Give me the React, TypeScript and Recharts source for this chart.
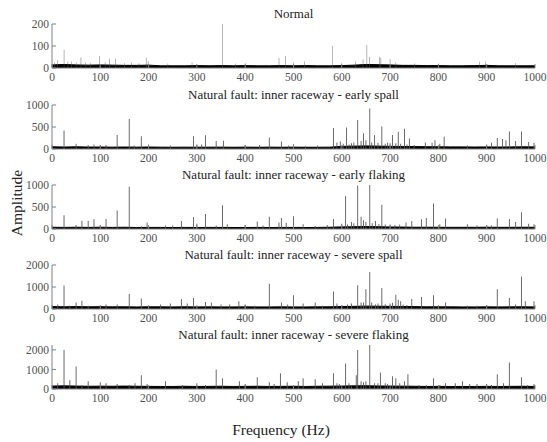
import React from 'react';
import { ComposedChart, Bar, Area, XAxis, YAxis } from 'recharts';

// x ticks shared by every panel
const freqTicks = [0, 100, 200, 300, 400, 500, 600, 700, 800, 900, 1000];

const floorFreq = [
  0, 25, 50, 75, 100, 125, 150, 175, 200, 225, 250, 275, 300, 325, 350, 375, 400, 425, 450, 475, 500,
  525, 550, 575, 600, 625, 650, 675, 700, 725, 750, 775, 800, 825, 850, 875, 900, 925, 950, 975, 1000,
];

// Normal
const normalPeaks: [number, number][] = [
  [5, 25], [11, 35], [25, 82], [33, 28], [40, 30], [50, 25], [60, 48], [70, 25], [80, 22], [99, 55],
  [110, 25], [119, 42], [132, 42], [150, 22], [165, 25], [180, 22], [195, 48], [199, 32], [240, 20],
  [290, 25], [353, 200], [380, 20], [400, 22], [470, 45], [484, 55], [500, 25], [523, 30], [581, 100],
  [600, 22], [629, 30], [644, 40], [652, 105], [657, 50], [678, 50], [681, 45], [700, 40], [712, 25],
  [750, 20], [800, 20], [885, 28], [897, 30], [960, 22],
];
const normalFloor = [
  14, 16, 14, 13, 14, 13, 12, 12, 13, 10, 10, 10, 11, 10, 11, 10, 11, 10, 10, 11, 10,
  11, 10, 10, 11, 13, 16, 15, 14, 12, 12, 11, 11, 10, 10, 11, 12, 10, 10, 10, 10,
];

// early spall
const spallEarlyPeaks: [number, number][] = [
  [25, 420], [50, 120], [75, 90], [87, 100], [100, 90], [112, 90], [135, 320], [160, 680], [170, 80],
  [185, 290], [200, 100], [245, 80], [293, 290], [300, 100], [310, 100], [318, 310], [340, 180],
  [355, 190], [400, 90], [430, 90], [450, 260], [475, 170], [490, 80], [500, 110], [525, 60], [550, 80],
  [583, 480], [590, 150], [597, 170], [603, 120], [610, 490], [615, 100], [620, 130], [625, 150],
  [633, 660], [640, 180], [645, 360], [650, 200], [658, 920], [662, 150], [668, 320], [675, 140],
  [683, 510], [690, 120], [695, 150], [700, 130], [705, 320], [712, 130], [717, 390], [722, 120],
  [730, 460], [735, 100], [740, 240], [750, 90], [773, 150], [787, 140], [793, 200], [803, 120],
  [812, 280], [860, 80], [900, 100], [910, 140], [922, 250], [933, 230], [940, 200], [947, 400],
  [960, 180], [972, 400], [987, 160], [998, 140],
];
const spallEarlyFloor = [
  50, 45, 50, 45, 45, 42, 45, 42, 45, 42, 40, 42, 40, 42, 42, 40, 42, 40, 42, 40, 42,
  40, 40, 42, 60, 65, 70, 65, 60, 58, 55, 52, 50, 48, 48, 45, 48, 45, 48, 50, 48,
];

// early flaking
const flakingEarlyPeaks: [number, number][] = [
  [25, 310], [50, 90], [62, 190], [75, 180], [87, 220], [100, 80], [112, 230], [135, 420], [160, 960],
  [185, 60], [197, 150], [235, 80], [250, 80], [268, 180], [293, 270], [300, 120], [318, 340], [340, 80],
  [353, 540], [363, 110], [400, 90], [425, 170], [437, 80], [450, 280], [470, 150], [475, 250],
  [485, 140], [500, 290], [520, 110], [545, 70], [570, 90], [583, 230], [600, 120], [608, 750],
  [612, 100], [620, 160], [625, 130], [633, 990], [640, 280], [645, 200], [650, 160], [658, 1000],
  [663, 130], [670, 180], [677, 110], [683, 550], [690, 100], [700, 100], [710, 90], [720, 100],
  [733, 150], [745, 180], [765, 220], [775, 250], [790, 580], [803, 110], [815, 240], [860, 110],
  [880, 80], [900, 90], [910, 80], [922, 240], [947, 230], [960, 160], [972, 380], [987, 120], [998, 110],
];
const flakingEarlyFloor = [
  40, 36, 40, 36, 40, 36, 40, 34, 36, 36, 34, 36, 34, 36, 36, 34, 34, 36, 34, 36, 36,
  34, 36, 40, 48, 52, 56, 52, 46, 44, 40, 40, 38, 38, 38, 38, 40, 38, 38, 40, 38,
];

// severe spall
const spallSeverePeaks: [number, number][] = [
  [12, 200], [25, 1070], [37, 150], [50, 300], [62, 370], [75, 150], [100, 150], [112, 200], [135, 200],
  [160, 680], [185, 480], [200, 150], [225, 200], [245, 250], [268, 450], [280, 250], [293, 500],
  [318, 320], [330, 300], [350, 200], [368, 200], [387, 350], [400, 200], [420, 150], [450, 1150],
  [475, 300], [488, 200], [500, 620], [520, 250], [545, 300], [560, 150], [583, 800], [590, 250],
  [600, 180], [612, 200], [620, 250], [633, 1080], [640, 300], [645, 300], [650, 900], [658, 1680],
  [662, 300], [670, 200], [675, 250], [683, 950], [690, 220], [700, 250], [705, 280], [712, 650],
  [717, 420], [722, 350], [727, 200], [735, 180], [745, 450], [765, 550], [790, 620], [815, 300],
  [860, 150], [880, 150], [900, 180], [922, 900], [947, 500], [960, 200], [972, 1480], [980, 350], [998, 350],
];
const spallSevereFloor = [
  110, 100, 110, 100, 105, 98, 100, 95, 100, 98, 95, 100, 95, 98, 95, 95, 98, 95, 95, 98, 95,
  95, 98, 100, 115, 120, 130, 125, 120, 115, 110, 100, 100, 98, 95, 95, 98, 95, 98, 100, 95,
];

// severe flaking
const flakingSeverePeaks: [number, number][] = [
  [12, 300], [25, 2000], [37, 450], [50, 1150], [62, 200], [75, 400], [100, 350], [112, 300], [135, 250],
  [160, 200], [172, 300], [185, 700], [197, 250], [235, 400], [270, 200], [300, 300], [318, 200],
  [340, 1000], [353, 550], [388, 400], [400, 250], [425, 600], [450, 350], [460, 250], [473, 800],
  [487, 350], [510, 400], [520, 550], [545, 500], [560, 300], [583, 800], [590, 300], [595, 250],
  [608, 1300], [615, 300], [620, 200], [630, 700], [633, 2000], [640, 400], [645, 350], [650, 400],
  [658, 2250], [668, 300], [675, 300], [680, 850], [690, 300], [695, 250], [705, 650], [712, 550],
  [720, 300], [730, 400], [737, 750], [760, 200], [775, 200], [790, 550], [803, 200], [815, 300],
  [835, 300], [850, 400], [865, 250], [880, 250], [900, 250], [910, 200], [922, 750], [935, 300],
  [947, 1350], [972, 600], [985, 200], [998, 250],
];
const flakingSevereFloor = [
  150, 160, 150, 140, 145, 140, 150, 140, 135, 130, 130, 140, 130, 135, 140, 130, 135, 140, 130, 135, 140,
  130, 140, 145, 150, 160, 165, 155, 150, 145, 140, 130, 135, 130, 130, 130, 135, 130, 135, 140, 130,
];

const titles = [
  'Normal',
  'Natural fault: inner raceway - early spall',
  'Natural fault: inner raceway - early flaking',
  'Natural fault: inner raceway - severe spall',
  'Natural fault: inner raceway - severe flaking',
];
const yMaxes = [200, 1000, 1000, 2000, 2250];
const yTickSets = [[0, 100, 200], [0, 500, 1000], [0, 500, 1000], [0, 1000, 2000], [0, 1000, 2000]];

function buildRows(peaks: [number, number][], floor: number[]) {
  const rows: { f: number; amp?: number; floor?: number }[] = floorFreq.map((f, i) => ({ f, floor: floor[i] }));
  peaks.forEach(([f, a]) => rows.push({ f, amp: a }));
  return rows.sort((a, b) => a.f - b.f);
}

const panelRows = [
  buildRows(normalPeaks, normalFloor),
  buildRows(spallEarlyPeaks, spallEarlyFloor),
  buildRows(flakingEarlyPeaks, flakingEarlyFloor),
  buildRows(spallSeverePeaks, spallSevereFloor),
  buildRows(flakingSeverePeaks, flakingSevereFloor),
];

const W = 547;
const PLOT_H = 44;
const AXIS_H = 20;
const PAD_TOP = 8;
const plotTops = [24, 105, 185, 265, 345];
const serif = 'Liberation Serif, Times New Roman, Tinos, DejaVu Serif, serif';
const axisColor = '#808080';
const tickStyle = { fill: '#505050', fontSize: 11.5, fontFamily: serif };

function Panel({ rows, yMax, yTicks }: { rows: any[]; yMax: number; yTicks: number[] }) {
  return (
    <ComposedChart
      width={W}
      height={PAD_TOP + PLOT_H + AXIS_H}
      data={rows}
      margin={{ top: PAD_TOP, right: 12, bottom: 0, left: 0 }}
      style={{ fontFamily: serif }}
    >
      <XAxis
        dataKey="f"
        type="number"
        domain={[0, 1000]}
        ticks={freqTicks}
        interval={0}
        allowDataOverflow
        height={AXIS_H}
        tickSize={-4}
        tickMargin={8.5}
        stroke={axisColor}
        tick={tickStyle}
      />
      <XAxis
        xAxisId="top"
        orientation="top"
        dataKey="f"
        type="number"
        domain={[0, 1000]}
        ticks={freqTicks}
        interval={0}
        height={0}
        tickSize={-4}
        tickFormatter={() => ''}
        stroke={axisColor}
      />
      <YAxis
        type="number"
        domain={[0, yMax]}
        ticks={yTicks}
        interval={0}
        allowDataOverflow
        width={52}
        tickSize={-4}
        tickMargin={7}
        stroke={axisColor}
        tick={tickStyle}
      />
      <YAxis
        yAxisId="right"
        orientation="right"
        type="number"
        domain={[0, yMax]}
        ticks={yTicks}
        interval={0}
        width={0}
        tickSize={-4}
        tickFormatter={() => ''}
        stroke={axisColor}
      />
      <Area
        dataKey="floor"
        type="linear"
        connectNulls
        stroke="#000"
        strokeWidth={1}
        fill="#000"
        fillOpacity={1}
        dot={false}
        activeDot={false}
        isAnimationActive={false}
      />
      <Bar dataKey="amp" barSize={1} fill="#555" isAnimationActive={false} />
    </ComposedChart>
  );
}

export default function App() {
  return (
    <div style={{ position: 'relative', width: W, height: 442, background: '#fff', fontFamily: serif }}>
      <style>{'body{margin:0}'}</style>
      {panelRows.map((rows, i) => (
        <React.Fragment key={i}>
          <div
            style={{
              position: 'absolute',
              left: 52,
              width: 483,
              top: plotTops[i] - 19,
              lineHeight: '18px',
              fontSize: 13,
              textAlign: 'center',
              color: '#222',
            }}
          >
            {titles[i]}
          </div>
          <div style={{ position: 'absolute', left: 0, top: plotTops[i] - PAD_TOP }}>
            <Panel rows={rows} yMax={yMaxes[i]} yTicks={yTickSets[i]} />
          </div>
        </React.Fragment>
      ))}
      <div
        style={{
          position: 'absolute',
          left: 17,
          top: 203,
          transform: 'translate(-50%, -50%) rotate(-90deg)',
          fontSize: 15.5,
          color: '#222',
          whiteSpace: 'nowrap',
        }}
      >
        Amplitude
      </div>
      <div
        style={{
          position: 'absolute',
          left: 0,
          width: 562,
          top: 420,
          lineHeight: '20px',
          fontSize: 15.5,
          textAlign: 'center',
          color: '#222',
        }}
      >
        Frequency (Hz)
      </div>
    </div>
  );
}
